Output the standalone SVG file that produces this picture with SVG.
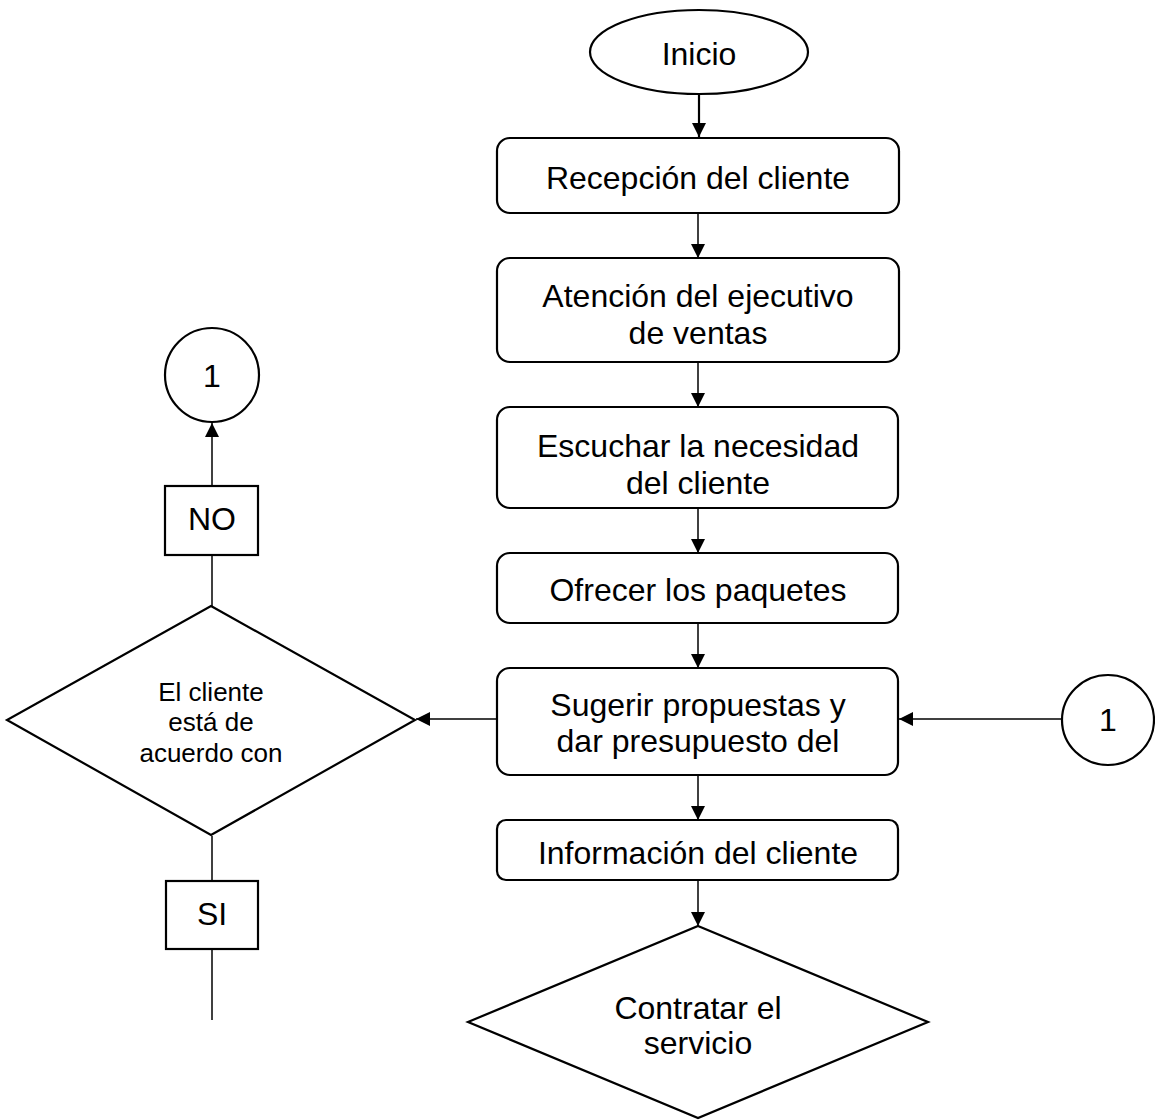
<svg xmlns="http://www.w3.org/2000/svg" width="1155" height="1120" viewBox="0 0 1155 1120">
<style>
.shape{fill:#fff;stroke:#000;stroke-width:2.2}
.t{font-family:"Liberation Sans",Arial,sans-serif;font-size:32px;fill:#000;text-anchor:middle}
.s{font-family:"Liberation Sans",Arial,sans-serif;font-size:26px;fill:#000;text-anchor:middle}
.c{fill:none;stroke:#000;stroke-width:1.5}
</style>
<defs>
<marker id="ah" viewBox="0 0 10 10" refX="10" refY="5" markerWidth="14" markerHeight="14" markerUnits="userSpaceOnUse" orient="auto">
<path d="M0,0 L10,5 L0,10 z" fill="#000"/>
</marker>
</defs>
<rect width="1155" height="1120" fill="#fff"/>
<g id="connectors">
<line class="c" x1="699" y1="78" x2="699" y2="137" style="stroke-width:2.2" marker-end="url(#ah)"/>
<line class="c" x1="698" y1="213" x2="698" y2="258" marker-end="url(#ah)"/>
<line class="c" x1="698" y1="362" x2="698" y2="407" marker-end="url(#ah)"/>
<line class="c" x1="698" y1="508" x2="698" y2="553" marker-end="url(#ah)"/>
<line class="c" x1="698" y1="623" x2="698" y2="668" marker-end="url(#ah)"/>
<line class="c" x1="698" y1="775" x2="698" y2="820" marker-end="url(#ah)"/>
<line class="c" x1="698" y1="880" x2="698" y2="926" marker-end="url(#ah)"/>
<line class="c" x1="1062" y1="719" x2="899" y2="719" marker-end="url(#ah)"/>
<line class="c" x1="497" y1="719" x2="416" y2="719" marker-end="url(#ah)"/>
<line class="c" x1="212" y1="606" x2="212" y2="555"/>
<line class="c" x1="212" y1="486" x2="212" y2="423" marker-end="url(#ah)"/>
<line class="c" x1="212" y1="836" x2="212" y2="881"/>
<line class="c" x1="212" y1="949" x2="212" y2="1020"/>
</g>
<g id="inicio">
<ellipse class="shape" cx="699" cy="52" rx="109" ry="42"/>
<text class="t" x="699" y="65">Inicio</text>
</g>
<g id="recepcion">
<rect class="shape" x="497" y="138" width="402" height="75" rx="13"/>
<text class="t" x="698" y="189">Recepción del cliente</text>
</g>
<g id="atencion">
<rect class="shape" x="497" y="258" width="402" height="104" rx="13"/>
<text class="t" x="698" y="307">Atención del ejecutivo</text>
<text class="t" x="698" y="344">de ventas</text>
</g>
<g id="escuchar">
<rect class="shape" x="497" y="407" width="401" height="101" rx="13"/>
<text class="t" x="698" y="457">Escuchar la necesidad</text>
<text class="t" x="698" y="494">del cliente</text>
</g>
<g id="ofrecer">
<rect class="shape" x="497" y="553" width="401" height="70" rx="13"/>
<text class="t" x="698" y="601">Ofrecer los paquetes</text>
</g>
<g id="sugerir">
<rect class="shape" x="497" y="668" width="401" height="107" rx="13"/>
<text class="t" x="698" y="716">Sugerir propuestas y</text>
<text class="t" x="698" y="752">dar presupuesto del</text>
</g>
<g id="informacion">
<rect class="shape" x="497" y="820" width="401" height="60" rx="9"/>
<text class="t" x="698" y="864">Información del cliente</text>
</g>
<g id="contratar">
<polygon class="shape" points="698,926 928,1022 698,1118 468,1022"/>
<text class="t" x="698" y="1019">Contratar el</text>
<text class="t" x="698" y="1054">servicio</text>
</g>
<g id="conector-derecho">
<ellipse class="shape" cx="1108" cy="720" rx="46" ry="45"/>
<text class="t" x="1108" y="731">1</text>
</g>
<g id="decision">
<polygon class="shape" points="211,606 415,720 211,835 7,720"/>
<text class="s" x="211" y="701">El cliente</text>
<text class="s" x="211" y="731">está de</text>
<text class="s" x="211" y="762">acuerdo con</text>
</g>
<g id="no">
<rect class="shape" x="165" y="486" width="93" height="69"/>
<text class="t" x="212" y="530">NO</text>
</g>
<g id="conector-izquierdo">
<ellipse class="shape" cx="212" cy="375" rx="47" ry="47"/>
<text class="t" x="212" y="387">1</text>
</g>
<g id="si">
<rect class="shape" x="166" y="881" width="92" height="68"/>
<text class="t" x="212" y="925">SI</text>
</g>
</svg>
